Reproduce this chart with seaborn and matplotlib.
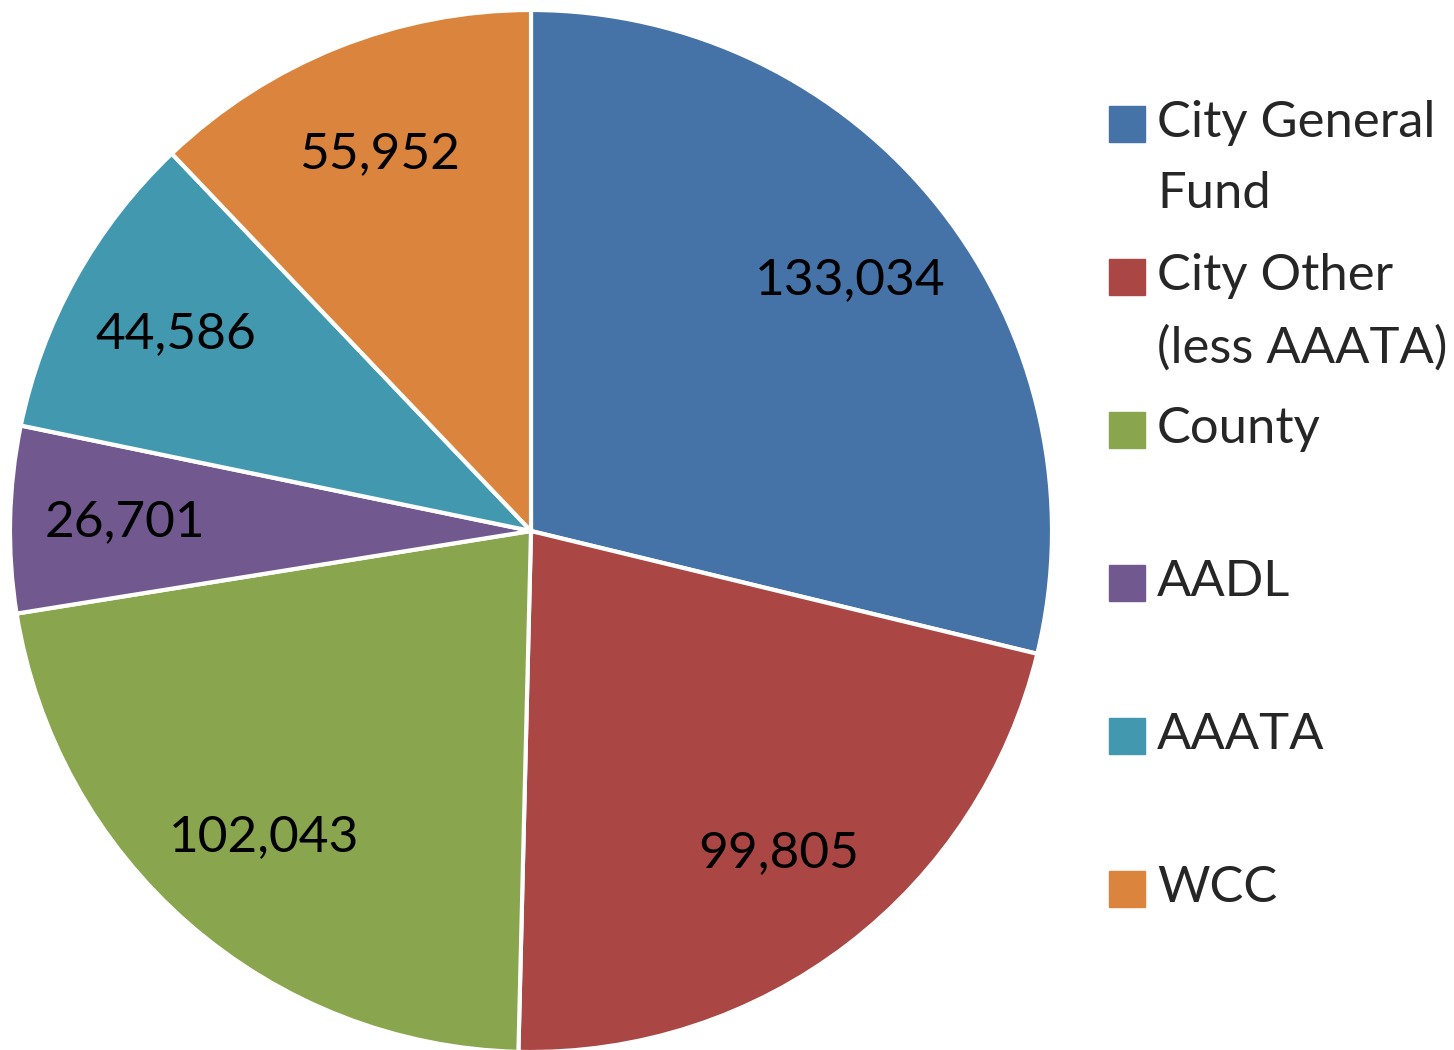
import matplotlib
matplotlib.use("Agg")
import matplotlib.pyplot as plt
import seaborn as sns
from matplotlib.patches import Rectangle

# Données
categories = ["City General\nFund", "City Other\n(less AAATA)", "County", "AADL", "AAATA", "WCC"]
values = [133034, 99805, 102043, 26701, 44586, 55952]
colors = ["#4572A7", "#AA4643", "#89A54E", "#71588F", "#4198AF", "#DB843D"]

sns.set_theme(style="white")
plt.rcParams['font.family'] = ['Lato', 'DejaVu Sans']

fig = plt.figure(figsize=(14.54, 10.5), dpi=100)
ax = fig.add_axes([10 / 1454, -2 / 1050, 1042 / 1454, 1042 / 1050])

total = sum(values)
wedges, texts, autotexts = ax.pie(
    values,
    colors=sns.color_palette(colors),
    startangle=90,
    counterclock=False,
    autopct=lambda p: f"{round(p * total / 100):,}",
    pctdistance=0.78,
    wedgeprops=dict(edgecolor="white", linewidth=3),
    textprops=dict(fontsize=37, color="black"),
)
ax.set_xlim(-1, 1)
ax.set_ylim(-1, 1)
ax.set_aspect("equal")

# Légende (carrés alignés sur la première ligne)
y0 = 1 - 124 / 1050
step = 153 / 1050
for i, (lab, col) in enumerate(zip(categories, colors)):
    y = y0 - i * step
    fig.add_artist(Rectangle((1109 / 1454, y - 18 / 1050), 36 / 1454, 36 / 1050,
                             transform=fig.transFigure, color=col))
    fig.text(1157 / 1454, y + 24 / 1050, lab, fontsize=36.5, va="top", ha="left",
             linespacing=1.68)

fig.savefig("out.png", dpi=100)
